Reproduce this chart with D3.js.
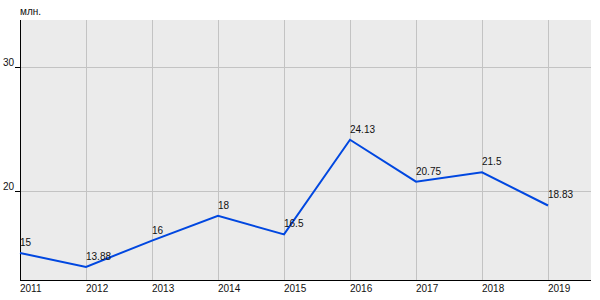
<!DOCTYPE html>
<html>
<head>
<meta charset="utf-8">
<script src="https://cdn.jsdelivr.net/npm/d3@7"></script>
<style>
    body { margin: 0; background: #fff; }
    text { font-family: "Liberation Sans", Arial, sans-serif; font-size: 10px; fill: #111; }
</style>
</head>
<body>
<div id="chart"></div>
<script>
// years and values (million)
var years = ["2011", "2012", "2013", "2014", "2015", "2016", "2017", "2018", "2019"];
var values = [15, 13.88, 16, 18, 16.5, 24.13, 20.75, 21.5, 18.83];
var yTicks = [20, 30];
var unitLabel = "млн.";

var width = 600, height = 300;
var pLeft = 20, pRight = 591, pTop = 20, pBottom = 280;

var svg = d3.select("#chart").append("svg")
    .attr("width", width)
    .attr("height", height);

var x = d3.scalePoint().domain(years).range([pLeft, 548]);
var y = d3.scaleLinear().domain([12.82, 33.79]).range([pBottom, pTop]);

// plot background
svg.append("rect")
    .attr("x", pLeft).attr("y", pTop)
    .attr("width", pRight - pLeft).attr("height", pBottom - pTop)
    .style("fill", "#ebebeb");

// grid lines
svg.selectAll(".vgrid").data(years.slice(1)).enter().append("line")
    .attr("x1", function(d) { return x(d) + 0.5; })
    .attr("x2", function(d) { return x(d) + 0.5; })
    .attr("y1", pTop).attr("y2", pBottom)
    .style("stroke", "#c3c3c3");

svg.selectAll(".hgrid").data(yTicks).enter().append("line")
    .attr("x1", pLeft).attr("x2", pRight)
    .attr("y1", function(d) { return Math.round(y(d)) + 0.5; })
    .attr("y2", function(d) { return Math.round(y(d)) + 0.5; })
    .style("stroke", "#c3c3c3");

// axes lines
svg.append("line")
    .attr("x1", pLeft + 0.5).attr("x2", pLeft + 0.5)
    .attr("y1", pTop).attr("y2", pBottom + 1)
    .style("stroke", "#000");
svg.append("line")
    .attr("x1", pLeft).attr("x2", pRight)
    .attr("y1", pBottom + 0.5).attr("y2", pBottom + 0.5)
    .style("stroke", "#000");

// y ticks + labels
svg.selectAll(".ytick").data(yTicks).enter().append("line")
    .attr("x1", pLeft - 5).attr("x2", pLeft)
    .attr("y1", function(d) { return Math.round(y(d)) + 0.5; })
    .attr("y2", function(d) { return Math.round(y(d)) + 0.5; })
    .style("stroke", "#000");

svg.selectAll(".ylabel").data(yTicks).enter().append("text")
    .attr("x", pLeft - 6)
    .attr("y", function(d) { return y(d) - 1; })
    .attr("text-anchor", "end")
    .text(function(d) { return d; });

svg.append("text")
    .attr("x", pLeft)
    .attr("y", 15)
    .text(unitLabel);

// x labels
svg.selectAll(".xlabel").data(years).enter().append("text")
    .attr("x", function(d) { return x(d); })
    .attr("y", 292)
    .text(function(d) { return d; });

// line
var line = d3.line()
    .x(function(d, i) { return x(years[i]); })
    .y(function(d) { return y(d); });

svg.append("path")
    .datum(values)
    .attr("d", line)
    .style("fill", "none")
    .style("stroke", "#0047e0")
    .style("stroke-width", 2);

// value labels
svg.selectAll(".vlabel").data(values).enter().append("text")
    .attr("x", function(d, i) { return x(years[i]); })
    .attr("y", function(d) { return y(d) - 7; })
    .text(function(d) { return d; });
</script>
</body>
</html>
